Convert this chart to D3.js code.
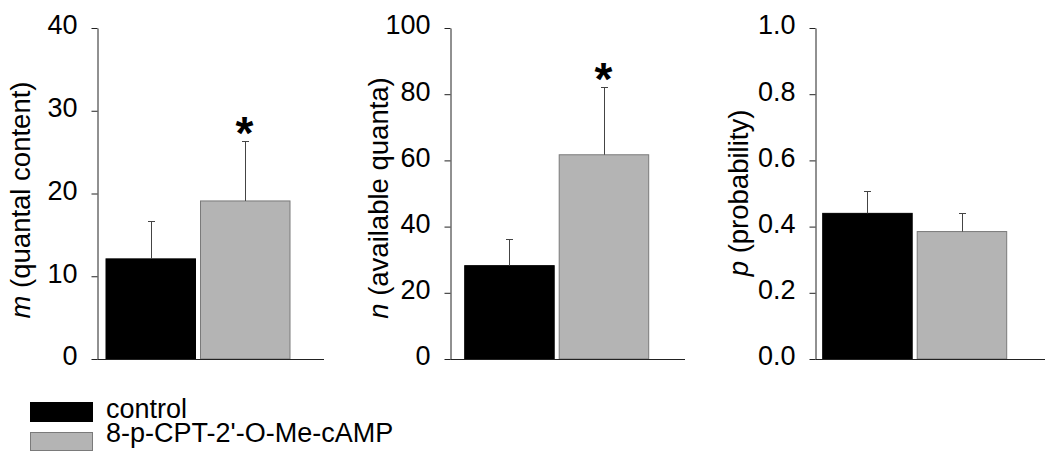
<!DOCTYPE html>
<html>
<head>
<meta charset="utf-8">
<script src="https://cdn.jsdelivr.net/npm/d3@7"></script>
<style>
  body { margin: 0; background: #fff; }
  svg { display: block; }
  text { font-family: "Liberation Sans", Arial, Helvetica, sans-serif; }
</style>
</head>
<body>
<svg id="chart" width="1050" height="459"></svg>
<script>
// ---- data ----
const categories = ["control", "8-p-CPT-2'-O-Me-cAMP"];
const mValues = [12.1, 19.1];
const mSem = [4.6, 7.2];
const nValues = [28.2, 61.7];
const nSem = [8.1, 20.5];
const pValues = [0.44, 0.385];
const pSem = [0.067, 0.056];
const mTicks = [0, 10, 20, 30, 40];
const nTicks = [0, 20, 40, 60, 80, 100];
const pTicks = [0, 0.2, 0.4, 0.6, 0.8, 1.0];
const mSignif = [false, true];
const nSignif = [false, true];
const pSignif = [false, false];
const fillColors = ["#000000", "#b4b4b4"];
const strokeColors = ["#000000", "#7a7a7a"];

const panels = [
  { varName: "m", rest: " (quantal content)", values: mValues, sem: mSem, ticks: mTicks, max: 40, fmt: d3.format("d"), signif: mSignif,
    axisX: 97.5, barStart: 106, xEnd: 324, labelX: 20, labelY: 200 },
  { varName: "n", rest: " (available quanta)", values: nValues, sem: nSem, ticks: nTicks, max: 100, fmt: d3.format("d"), signif: nSignif,
    axisX: 450.5, barStart: 464.7, xEnd: 685, labelX: 378, labelY: 198 },
  { varName: "p", rest: " (probability)", values: pValues, sem: pSem, ticks: pTicks, max: 1.0, fmt: d3.format(".1f"), signif: pSignif,
    axisX: 815.5, barStart: 822.7, xEnd: 1045, labelX: 738, labelY: 193 }
];

const svg = d3.select("#chart");
const yTop = 28, yBottom = 359;
const barW = 89.5, barGap = 5;
const axisColor = "#222";

panels.forEach(p => {
  const y = d3.scaleLinear().domain([0, p.max]).range([yBottom, yTop]);
  const x = d3.scaleBand().domain(categories)
    .range([p.barStart, p.barStart + 2 * barW + barGap])
    .paddingInner(barGap / (barW + barGap)).paddingOuter(0);

  const g = svg.append("g");

  // bars
  g.selectAll("rect.bar").data(categories).join("rect")
    .attr("class", "bar")
    .attr("x", d => x(d))
    .attr("width", x.bandwidth())
    .attr("y", (d, i) => y(p.values[i]))
    .attr("height", (d, i) => yBottom - y(p.values[i]))
    .attr("fill", (d, i) => fillColors[i])
    .attr("stroke", (d, i) => strokeColors[i])
    .attr("stroke-width", 1);

  // error bars (upper only)
  categories.forEach((c, i) => {
    const cx = Math.round(x(c) + x.bandwidth() / 2) + 0.5;
    const y0 = y(p.values[i]);
    const y1 = Math.round(y(p.values[i] + p.sem[i])) + 0.5;
    g.append("line").attr("x1", cx).attr("x2", cx).attr("y1", y0).attr("y2", y1)
      .attr("stroke", "#444").attr("stroke-width", 1);
    g.append("line").attr("x1", cx - 3.5).attr("x2", cx + 3.5).attr("y1", y1).attr("y2", y1)
      .attr("stroke", "#444").attr("stroke-width", 1);
    if (p.signif[i]) {
      g.append("text").attr("x", cx - 1).attr("y", y1 + 7)
        .attr("text-anchor", "middle")
        .attr("font-size", 46).attr("font-weight", "bold").attr("fill", "#000")
        .text("*");
    }
  });

  // y axis
  const yAxis = d3.axisLeft(y).tickValues(p.ticks).tickFormat(p.fmt)
    .tickSize(6).tickPadding(14).tickSizeOuter(0);
  const ag = g.append("g").attr("transform", `translate(${p.axisX},0)`).call(yAxis);
  ag.select(".domain").attr("stroke", axisColor);
  ag.selectAll(".tick line").attr("stroke", axisColor);
  ag.selectAll(".tick text").attr("font-size", 27).attr("fill", "#000")
    .attr("font-family", "'Liberation Sans', Arial, sans-serif").attr("dy", "0.22em");

  // x axis baseline
  g.append("line").attr("x1", p.axisX).attr("x2", p.xEnd)
    .attr("y1", yBottom + 0.5).attr("y2", yBottom + 0.5)
    .attr("stroke", axisColor).attr("stroke-width", 1);

  // y label
  const yl = g.append("text")
    .attr("transform", `translate(${p.labelX},${p.labelY}) rotate(-90)`)
    .attr("text-anchor", "middle").attr("dy", "0.35em")
    .attr("font-size", 27.5).attr("fill", "#000");
  yl.append("tspan").attr("font-style", "italic").text(p.varName);
  yl.append("tspan").text(p.rest);
});

// legend
const legend = svg.append("g");
const legY = [402.5, 432.5];
const legH = [19, 18];
const legBase = [418, 442];
categories.forEach((c, i) => {
  legend.append("rect").attr("x", 30.5).attr("y", legY[i]).attr("width", 62).attr("height", legH[i])
    .attr("fill", fillColors[i]).attr("stroke", strokeColors[i]).attr("stroke-width", 1);
  legend.append("text").attr("x", 106).attr("y", legBase[i])
    .attr("font-size", 27).attr("fill", "#000").text(c);
});
</script>
</body>
</html>
